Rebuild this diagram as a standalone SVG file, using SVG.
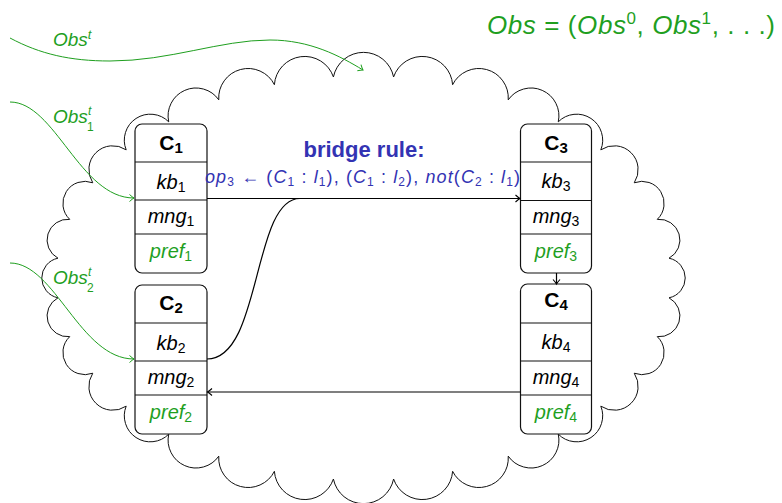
<svg xmlns="http://www.w3.org/2000/svg" width="782" height="503" viewBox="0 0 782 503">
<style>
.t{font-family:"Liberation Sans",Arial,sans-serif;}
.i{font-style:italic;}
.bd{font-weight:bold;}
.g{fill:#1f9f1f;}
.bl{fill:#3333b3;}
.box{fill:#fff;stroke:#111;stroke-width:1.2;}
.div{stroke:#111;stroke-width:1.1;}
.cloud{fill:none;stroke:#111;stroke-width:1;}
.conn{fill:none;stroke:#000;stroke-width:1.2;}
.gconn{fill:none;stroke:#1f9f1f;stroke-width:1;}
</style>
<defs>
<marker id="ak" viewBox="-6 -5 8 10" markerWidth="8" markerHeight="10" refX="0" refY="0" orient="auto" markerUnits="userSpaceOnUse"><path d="M-4.5,-3.5 Q-1.5,-0.8 0,0 Q-1.5,0.8 -4.5,3.5" fill="none" stroke="#000" stroke-width="1.1"/></marker>
<marker id="ag" viewBox="-6 -5 8 10" markerWidth="8" markerHeight="10" refX="0" refY="0" orient="auto" markerUnits="userSpaceOnUse"><path d="M-4.5,-3.5 Q-1.5,-0.8 0,0 Q-1.5,0.8 -4.5,3.5" fill="none" stroke="#1f9f1f" stroke-width="1"/></marker>
</defs>
<rect width="782" height="503" fill="#fff"/>
<g id="cloud">
<path class="cloud" d="M669.02,258.20 A20.2,20.2 0 0 1 669.02,297.80 A20.7,20.7 0 0 1 657.28,336.64 A22.05,22.05 0 0 1 634.25,373.22 A23.94,23.94 0 0 1 600.81,406.15 A25.99,25.99 0 0 1 558.26,434.15 A27.88,27.88 0 0 1 508.22,456.15 A29.4,29.4 0 0 1 452.62,471.30 A30.37,30.37 0 0 1 393.59,479.03 A30.7,30.7 0 0 1 333.41,479.03 A30.37,30.37 0 0 1 274.38,471.30 A29.4,29.4 0 0 1 218.78,456.15 A27.88,27.88 0 0 1 168.74,434.15 A25.99,25.99 0 0 1 126.19,406.15 A23.94,23.94 0 0 1 92.75,373.22 A22.05,22.05 0 0 1 69.72,336.64 A20.7,20.7 0 0 1 57.98,297.80 A20.2,20.2 0 0 1 57.98,258.20 A20.7,20.7 0 0 1 69.72,219.36 A22.05,22.05 0 0 1 92.75,182.78 A23.94,23.94 0 0 1 126.19,149.85 A25.99,25.99 0 0 1 168.74,121.85 A27.88,27.88 0 0 1 218.78,99.85 A29.4,29.4 0 0 1 274.38,84.70 A30.37,30.37 0 0 1 333.41,76.97 A30.7,30.7 0 0 1 393.59,76.97 A30.37,30.37 0 0 1 452.62,84.70 A29.4,29.4 0 0 1 508.22,99.85 A27.88,27.88 0 0 1 558.26,121.85 A25.99,25.99 0 0 1 600.81,149.85 A23.94,23.94 0 0 1 634.25,182.78 A22.05,22.05 0 0 1 657.28,219.36 A20.7,20.7 0 0 1 669.02,258.20 Z"/>
</g>
<g id="C1">
<rect class="box" x="135" y="124" width="72" height="149" rx="7"/>
<line class="div" x1="135" y1="162" x2="207" y2="162"/>
<line class="div" x1="135" y1="200" x2="207" y2="200"/>
<line class="div" x1="135" y1="234" x2="207" y2="234"/>
<text class="t bd" x="171" y="150" font-size="21" text-anchor="middle">C<tspan font-size="15" dy="3">1</tspan></text>
<text class="t" x="171" y="189" font-size="20" text-anchor="middle"><tspan class="i">kb</tspan><tspan font-size="14" dy="3">1</tspan></text>
<text class="t" x="171" y="223" font-size="20" text-anchor="middle"><tspan class="i">mng</tspan><tspan font-size="14" dy="3">1</tspan></text>
<text class="t g" x="171" y="258" font-size="20" text-anchor="middle"><tspan class="i">pref</tspan><tspan font-size="14" dy="3">1</tspan></text>
</g>
<g id="C2">
<rect class="box" x="135" y="285" width="72" height="149" rx="7"/>
<line class="div" x1="135" y1="323" x2="207" y2="323"/>
<line class="div" x1="135" y1="361" x2="207" y2="361"/>
<line class="div" x1="135" y1="395" x2="207" y2="395"/>
<text class="t bd" x="171" y="310" font-size="21" text-anchor="middle">C<tspan font-size="15" dy="3">2</tspan></text>
<text class="t" x="171" y="350" font-size="20" text-anchor="middle"><tspan class="i">kb</tspan><tspan font-size="14" dy="3">2</tspan></text>
<text class="t" x="171" y="384" font-size="20" text-anchor="middle"><tspan class="i">mng</tspan><tspan font-size="14" dy="3">2</tspan></text>
<text class="t g" x="171" y="419" font-size="20" text-anchor="middle"><tspan class="i">pref</tspan><tspan font-size="14" dy="3">2</tspan></text>
</g>
<g id="C3">
<rect class="box" x="520.5" y="124" width="71" height="149" rx="7"/>
<line class="div" x1="520.5" y1="162" x2="591.5" y2="162"/>
<line class="div" x1="520.5" y1="200.5" x2="591.5" y2="200.5"/>
<line class="div" x1="520.5" y1="234" x2="591.5" y2="234"/>
<text class="t bd" x="556" y="150" font-size="21" text-anchor="middle">C<tspan font-size="15" dy="3">3</tspan></text>
<text class="t" x="556" y="188" font-size="20" text-anchor="middle"><tspan class="i">kb</tspan><tspan font-size="14" dy="3">3</tspan></text>
<text class="t" x="556" y="223" font-size="20" text-anchor="middle"><tspan class="i">mng</tspan><tspan font-size="14" dy="3">3</tspan></text>
<text class="t g" x="556" y="258" font-size="20" text-anchor="middle"><tspan class="i">pref</tspan><tspan font-size="14" dy="3">3</tspan></text>
</g>
<g id="C4">
<rect class="box" x="520.5" y="284" width="71" height="150" rx="7"/>
<line class="div" x1="520.5" y1="323" x2="591.5" y2="323"/>
<line class="div" x1="520.5" y1="361" x2="591.5" y2="361"/>
<line class="div" x1="520.5" y1="395" x2="591.5" y2="395"/>
<text class="t bd" x="556" y="307" font-size="21" text-anchor="middle">C<tspan font-size="15" dy="3">4</tspan></text>
<text class="t" x="556" y="349" font-size="20" text-anchor="middle"><tspan class="i">kb</tspan><tspan font-size="14" dy="3">4</tspan></text>
<text class="t" x="556" y="384" font-size="20" text-anchor="middle"><tspan class="i">mng</tspan><tspan font-size="14" dy="3">4</tspan></text>
<text class="t g" x="556" y="419" font-size="20" text-anchor="middle"><tspan class="i">pref</tspan><tspan font-size="14" dy="3">4</tspan></text>
</g>
<g id="connectors">
<path class="conn" d="M207,198.5 H520" marker-end="url(#ak)"/>
<path class="conn" d="M207,359 C262,359 252,198.5 300,198.5"/>
<path class="conn" d="M556.5,273 V284" marker-end="url(#ak)"/>
<path class="conn" d="M520.5,392 H207.5" marker-end="url(#ak)"/>
<path class="gconn" d="M10,38 C40,54 70,61 110,61 C170,61 220,40 270,40 C310,40 340,56 363,70" marker-end="url(#ag)"/>
<path class="gconn" d="M10,102 C55,102 80,198 134,198" marker-end="url(#ag)"/>
<path class="gconn" d="M10,263 C55,263 80,359 134,359" marker-end="url(#ag)"/>
</g>
<g id="labels">
<text class="t g" x="53" y="46" font-size="19"><tspan class="i">Obs</tspan><tspan class="i" font-size="13" dy="-7">t</tspan></text>
<text class="t g" x="53" y="123" font-size="19"><tspan class="i">Obs</tspan><tspan class="i" font-size="12" x="88" dy="-8">t</tspan></text>
<text class="t g" x="87" y="131" font-size="12">1</text>
<text class="t g" x="53" y="284" font-size="19"><tspan class="i">Obs</tspan><tspan class="i" font-size="12" x="88" dy="-8">t</tspan></text>
<text class="t g" x="87" y="292" font-size="12">2</text>
<text class="t g" x="487" y="34" font-size="26" textLength="288" lengthAdjust="spacing"><tspan class="i">Obs</tspan> = (<tspan class="i">Obs</tspan><tspan font-size="17" dy="-10">0</tspan><tspan dy="10">, </tspan><tspan class="i">Obs</tspan><tspan font-size="17" dy="-10">1</tspan><tspan dy="10">, . . .)</tspan></text>
<text class="t bd bl" x="364" y="157" font-size="22" text-anchor="middle">bridge rule:</text>
<text class="t bl" x="205" y="183" font-size="18" textLength="315" lengthAdjust="spacing"><tspan class="i">op</tspan><tspan font-size="12" dy="3">3</tspan><tspan dy="-3"> ← (</tspan><tspan class="i">C</tspan><tspan font-size="12" dy="3">1</tspan><tspan dy="-3"> : </tspan><tspan class="i">l</tspan><tspan font-size="12" dy="3">1</tspan><tspan dy="-3">), (</tspan><tspan class="i">C</tspan><tspan font-size="12" dy="3">1</tspan><tspan dy="-3"> : </tspan><tspan class="i">l</tspan><tspan font-size="12" dy="3">2</tspan><tspan dy="-3">), </tspan><tspan class="i">not</tspan>(<tspan class="i">C</tspan><tspan font-size="12" dy="3">2</tspan><tspan dy="-3"> : </tspan><tspan class="i">l</tspan><tspan font-size="12" dy="3">1</tspan><tspan dy="-3">)</tspan></text>
</g>
</svg>
